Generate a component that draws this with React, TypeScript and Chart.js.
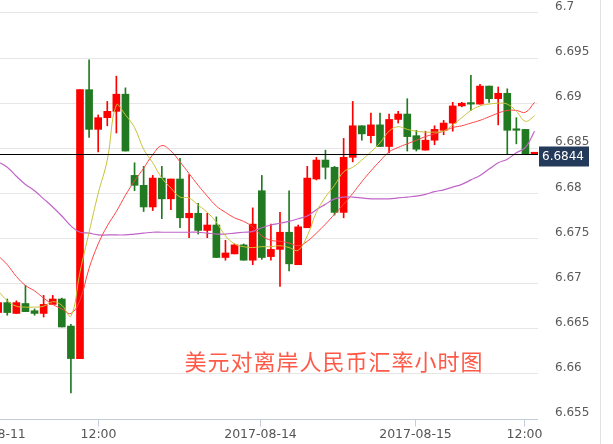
import React, { useEffect, useRef } from 'react';
import { Chart, registerables } from 'chart.js';

Chart.register(...registerables);

// Candle slot positions (hourly candles, -1 is the partly hidden one at the left edge)
const slots = [-1, 0, 1, 2, 3, 4, 5, 6, 7, 8, 9, 10, 11, 12, 13, 14, 15, 16, 17, 18, 19, 20, 21, 22, 23, 24, 25, 26, 27, 28, 29, 30, 31, 32, 33, 34, 35, 36, 37, 38, 39, 40, 41, 42, 43, 44, 45, 46, 47, 48, 49, 50, 51, 52, 53, 54, 55, 56, 57, 58];

const opens = [6.6668, 6.6679, 6.6667, 6.6678, 6.667, 6.6667, 6.6677, 6.6683, 6.6653, 6.6617,
  6.6915, 6.6871, 6.6884, 6.6891, 6.691, 6.682, 6.6809, 6.6785, 6.6817, 6.6794,
  6.6816, 6.6773, 6.6778, 6.6759, 6.6765, 6.6729, 6.6733, 6.6743, 6.6726, 6.6803,
  6.673, 6.6738, 6.6757, 6.6721, 6.6762, 6.6816, 6.6837, 6.6829, 6.6779, 6.684,
  6.6875, 6.6864, 6.6876, 6.6852, 6.6882, 6.6888, 6.6864, 6.6848, 6.6859, 6.687,
  6.6878, 6.6897, 6.69, 6.6899, 6.6919, 6.6905, 6.6911, 6.6871, 6.6871, 6.6844];
const highs = [6.668, 6.6683, 6.6681, 6.6698, 6.6672, 6.6687, 6.6687, 6.6684, 6.6655, 6.6915,
  6.6948, 6.6887, 6.6902, 6.693, 6.6917, 6.6834, 6.683, 6.682, 6.683, 6.6816,
  6.6839, 6.6821, 6.6789, 6.6778, 6.6774, 6.6748, 6.6744, 6.6744, 6.6784, 6.682,
  6.6766, 6.6779, 6.6803, 6.6765, 6.683, 6.684, 6.6848, 6.683, 6.6861, 6.6902,
  6.6875, 6.6889, 6.6889, 6.6888, 6.6891, 6.6905, 6.687, 6.6869, 6.6875, 6.6881,
  6.6901, 6.6901, 6.6931, 6.6921, 6.6919, 6.6918, 6.6916, 6.6884, 6.6871, 6.6844];
const lows = [6.6666, 6.6665, 6.6667, 6.6669, 6.6665, 6.6663, 6.6677, 6.6652, 6.6579, 6.6617,
  6.6862, 6.6846, 6.6875, 6.6867, 6.6847, 6.6803, 6.678, 6.6781, 6.6772, 6.6782,
  6.6762, 6.6751, 6.6755, 6.6751, 6.6729, 6.6726, 6.6733, 6.6726, 6.6721, 6.6727,
  6.6726, 6.6697, 6.6714, 6.6721, 6.6762, 6.6815, 6.6816, 6.6776, 6.6773, 6.6835,
  6.6859, 6.6856, 6.6852, 6.6845, 6.6878, 6.6847, 6.6847, 6.6848, 6.6854, 6.6865,
  6.6869, 6.6896, 6.6892, 6.6899, 6.6901, 6.6876, 6.6844, 6.6855, 6.6844, 6.6844];
const closes = [6.6679, 6.6668, 6.6679, 6.6669, 6.6667, 6.6677, 6.6683, 6.6652, 6.6617, 6.6915,
  6.6871, 6.6884, 6.6891, 6.691, 6.6847, 6.6809, 6.6785, 6.6817, 6.6794, 6.6816,
  6.6773, 6.6778, 6.6759, 6.6765, 6.6729, 6.6734, 6.6743, 6.6726, 6.6766, 6.6729,
  6.6738, 6.6757, 6.6722, 6.6763, 6.6817, 6.6837, 6.6829, 6.6779, 6.684, 6.6875,
  6.6866, 6.6876, 6.6852, 6.6882, 6.6888, 6.6863, 6.6849, 6.6859, 6.6871, 6.6878,
  6.6897, 6.69, 6.6899, 6.6919, 6.6905, 6.6911, 6.687, 6.687, 6.6844, 6.6844];

const maYellow = [6.6692, 6.6681, 6.6675, 6.6674, 6.6674, 6.6675, 6.668, 6.6676, 6.6664, 6.6713,
  6.6757, 6.68, 6.6837, 6.6898, 6.6887, 6.6873, 6.6849, 6.6834, 6.6817, 6.6806,
  6.6796, 6.6795, 6.6787, 6.6779, 6.6768, 6.6753, 6.6744, 6.6741, 6.674, 6.6741,
  6.6741, 6.6742, 6.674, 6.6737, 6.6753, 6.6779, 6.6796, 6.6809, 6.6824, 6.6829,
  6.6837, 6.6846, 6.6856, 6.6869, 6.6874, 6.6871, 6.6869, 6.6868, 6.6868, 6.6869,
  6.6876, 6.6884, 6.6892, 6.6897, 6.6899, 6.69, 6.6899, 6.6891, 6.688, 6.6886];
const maRed = [6.6731, 6.6721, 6.6708, 6.6698, 6.6692, 6.6684, 6.6677, 6.6672, 6.6667, 6.6682,
  6.6717, 6.6744, 6.6764, 6.678, 6.6798, 6.6814, 6.6828, 6.6843, 6.6853, 6.6847,
  6.6835, 6.6822, 6.6809, 6.6797, 6.6786, 6.6779, 6.6773, 6.6769, 6.6763, 6.6753,
  6.6748, 6.6747, 6.6745, 6.6742, 6.6747, 6.6756, 6.6766, 6.6777, 6.6788, 6.68,
  6.6813, 6.6825, 6.6836, 6.6846, 6.6851, 6.6855, 6.6859, 6.6863, 6.6866, 6.6869,
  6.6873, 6.6875, 6.6878, 6.6881, 6.6885, 6.6889, 6.6892, 6.6892, 6.689, 6.6901];
const maPurple = [6.6835, 6.6829, 6.6819, 6.681, 6.6803, 6.6794, 6.6785, 6.6775, 6.6764, 6.6757,
  6.6756, 6.6754, 6.6754, 6.6754, 6.6754, 6.6755, 6.6756, 6.6757, 6.6757, 6.6757,
  6.6757, 6.6757, 6.6757, 6.6756, 6.6755, 6.6755, 6.6756, 6.6757, 6.6758, 6.6762,
  6.6765, 6.6767, 6.6769, 6.6772, 6.6775, 6.6782, 6.6788, 6.6794, 6.6796, 6.6796,
  6.6795, 6.6794, 6.6794, 6.6794, 6.6795, 6.6796, 6.6797, 6.6799, 6.6802, 6.6804,
  6.6807, 6.681, 6.6815, 6.682, 6.6827, 6.6834, 6.6838, 6.6845, 6.6851, 6.6869];

const yTicks = [6.655, 6.66, 6.665, 6.67, 6.675, 6.68, 6.685, 6.69, 6.695, 6.7];
const xTickLabels = ['2017-08-11', '12:00', '2017-08-14', '2017-08-15', '12:00'];
const xTickSlots = [-2, 10, 27.8, 44.8, 56.8];
const lastPrice = 6.6844;
const titleText = '美元对离岸人民币汇率小时图';

const RED = '#ff0000';
const GREEN = '#217a21';

export default function App() {
  const ref = useRef<HTMLCanvasElement | null>(null);

  useEffect(() => {
    if (!ref.current) return;
    const colors = slots.map((_, i) => (closes[i] >= opens[i] ? RED : GREEN));

    const overlay = {
      id: 'overlay',
      afterDatasetsDraw(chart: any) {
        const { ctx, chartArea, scales } = chart;
        const xs = scales.x;
        const ys = scales.y;
        ctx.save();
        // x axis line
        const by = Math.round(chartArea.bottom) + 0.5;
        ctx.strokeStyle = '#c4cdd9';
        ctx.lineWidth = 1;
        ctx.beginPath();
        ctx.moveTo(chartArea.left, by);
        ctx.lineTo(chartArea.right, by);
        ctx.stroke();
        // ticks and labels
        ctx.font = '12.5px "DejaVu Sans"';
        ctx.fillStyle = '#555';
        ctx.textAlign = 'center';
        ctx.textBaseline = 'middle';
        xTickSlots.forEach((v, k) => {
          const px = Math.round(xs.getPixelForValue(v)) + 0.5;
          ctx.beginPath();
          ctx.moveTo(px, by);
          ctx.lineTo(px, by + 7);
          ctx.stroke();
          ctx.fillText(xTickLabels[k], px, by + 15);
        });
        // right border of axis area
        ctx.strokeStyle = '#e2e2e2';
        ctx.beginPath();
        ctx.moveTo(600.5, 0);
        ctx.lineTo(600.5, chart.height);
        ctx.stroke();
        // last price line
        const py = Math.round(ys.getPixelForValue(lastPrice)) + 0.5;
        ctx.strokeStyle = '#000';
        ctx.beginPath();
        ctx.moveTo(chartArea.left, py);
        ctx.lineTo(chartArea.right, py);
        ctx.stroke();
        // price tag
        ctx.fillStyle = '#243a5a';
        ctx.fillRect(chartArea.right + 1, py - 8, 50, 20);
        ctx.fillStyle = '#ffffff';
        ctx.font = '12px "DejaVu Sans"';
        ctx.textAlign = 'left';
        ctx.fillText(String(lastPrice), chartArea.right + 4, py + 2);
        // title
        ctx.font = '22px "Noto Sans CJK SC"';
        (ctx as any).letterSpacing = '1px';
        ctx.fillStyle = '#ff5a48';
        ctx.textAlign = 'center';
        ctx.fillText(titleText, 334, 362);
        ctx.restore();
      },
    };

    const chart = new Chart(ref.current, {
      type: 'bar',
      data: {
        datasets: [
          {
            type: 'line',
            data: slots.map((x, i) => ({ x, y: maYellow[i] })),
            borderColor: '#c8c236',
            borderWidth: 1,
            pointRadius: 0,
            tension: 0.4,
            order: 0,
          } as any,
          {
            type: 'line',
            data: slots.map((x, i) => ({ x, y: maRed[i] })),
            borderColor: '#ff4444',
            borderWidth: 1,
            pointRadius: 0,
            tension: 0.4,
            order: 0,
          } as any,
          {
            type: 'line',
            data: slots.map((x, i) => ({ x, y: maPurple[i] })),
            borderColor: '#c065c8',
            borderWidth: 1.2,
            pointRadius: 0,
            tension: 0.4,
            order: 0,
          } as any,
          {
            type: 'bar',
            data: slots.map((x, i) => ({ x, y: [opens[i], closes[i]] })),
            backgroundColor: colors,
            barThickness: 7,
            minBarLength: 1.5,
            grouped: false,
            order: 1,
          } as any,
          {
            type: 'bar',
            data: slots.map((x, i) => ({ x, y: [lows[i], highs[i]] })),
            backgroundColor: colors,
            barThickness: 1,
            grouped: false,
            order: 2,
          } as any,
        ],
      },
      options: {
        animation: false,
        responsive: true,
        maintainAspectRatio: false,
        events: [],
        layout: { padding: { left: 0, right: 0, top: 0, bottom: 25 } },
        plugins: { legend: { display: false }, tooltip: { enabled: false } },
        scales: {
          x: { type: 'linear', min: -0.8, max: 58.38, offset: false, bounds: 'ticks', display: false },
          y: {
            position: 'right',
            min: 6.655,
            max: 6.70144,
            afterBuildTicks: (s: any) => {
              s.ticks = yTicks.map((v) => ({ value: v }));
            },
            afterFit: (s: any) => {
              s.width = 75;
              s.paddingTop = 0;
              s.paddingBottom = 0;
            },
            grid: { color: '#e6e6e6', drawTicks: false },
            border: { display: false },
            ticks: {
              padding: 17,
              labelOffset: -6,
              color: '#5a5a5a',
              font: { family: 'DejaVu Sans', size: 12 },
              callback: (v: any) => String(Number(Number(v).toFixed(3))),
            },
          },
        },
      } as any,
      plugins: [overlay],
    });
    return () => chart.destroy();
  }, []);

  return (
    <div style={{ position: 'fixed', left: 0, top: 0, width: 613, height: 444, background: '#fff' }}>
      <canvas ref={ref} />
    </div>
  );
}
